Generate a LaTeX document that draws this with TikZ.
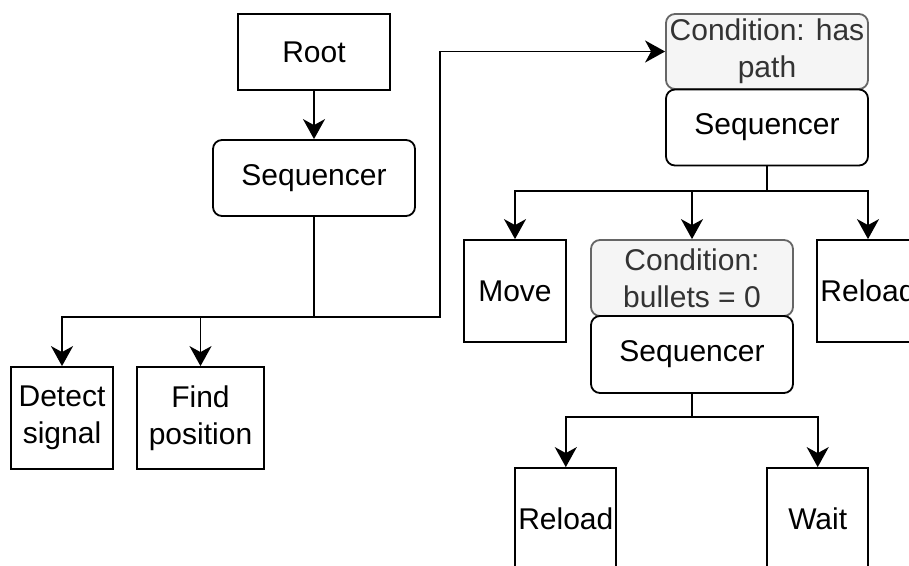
\documentclass[tikz,border=0pt]{standalone}
\usepackage{fontspec}
\setmainfont{Liberation Sans}
\usetikzlibrary{arrows.meta}
\definecolor{condfill}{HTML}{F5F5F5}
\definecolor{conddraw}{HTML}{666666}
\definecolor{condtext}{HTML}{333333}
\tikzset{
  base/.style={draw=black, line width=1.8pt, inner sep=0pt, align=center,
    font=\fontsize{30}{37}\selectfont, anchor=center},
  box/.style={base, rectangle},
  rbox/.style={base, rectangle, rounded corners=9pt},
  cond/.style={base, rectangle, rounded corners=9pt, fill=condfill, draw=conddraw, text=condtext},
  arr/.style={line width=1.8pt, -{Stealth[length=20pt, width=22pt, inset=6pt]}},
  ln/.style={line width=1.8pt},
}
\begin{document}
\begin{tikzpicture}[x=1pt, y=-1pt]
\useasboundingbox (0,0) rectangle (909,565);
\node[box, minimum width=152pt, minimum height=76pt] (root) at (314,52) {Root};
\node[rbox, minimum width=202pt, minimum height=76pt] (seq1) at (314,178) {Sequencer};
\node[box, minimum width=102pt, minimum height=102pt] (detect) at (62,418) {Detect\\signal};
\node[box, minimum width=127pt, minimum height=102pt] (find) at (200.5,418) {Find\\position};
\node[cond, minimum width=202pt, minimum height=75pt] (cond1) at (767,51.5) {Condition: has\\path};
\node[rbox, minimum width=202pt, minimum height=76pt] (seq2) at (767,127.5) {Sequencer};
\node[box, minimum width=102pt, minimum height=102pt] (move) at (515,291) {Move};
\node[cond, minimum width=202pt, minimum height=76pt] (cond2) at (692,278) {Condition:\\bullets = 0};
\node[rbox, minimum width=202pt, minimum height=77pt] (seq3) at (692,354.5) {Sequencer};
\node[box, minimum width=102pt, minimum height=102pt] (reload1) at (868,291) {Reload};
\node[box, minimum width=101pt, minimum height=102pt] (reload2) at (565.8,519) {Reload};
\node[box, minimum width=101pt, minimum height=102pt] (wait) at (817.7,519) {Wait};

\draw[arr] (root.south) -- (seq1.north);
\coordinate (j1) at (314,317);
\coordinate (j2) at (440,317);
\draw[arr] (seq1.south) -- (j1) -| (detect.north);
\draw[arr] (j1) -| (find.north);
\draw[arr] (j1) -- (j2) |- (cond1.west);

\coordinate (j3) at (767,191);
\draw[ln] (seq2.south) -- (j3);
\draw[arr] (j3) -| (move.north);
\draw[arr] (j3) -| (cond2.north);
\draw[arr] (j3) -| (reload1.north);

\coordinate (j4) at (692,417);
\draw[ln] (seq3.south) -- (j4);
\draw[arr] (j4) -| (reload2.north);
\draw[arr] (j4) -| (wait.north);
\end{tikzpicture}
\end{document}
